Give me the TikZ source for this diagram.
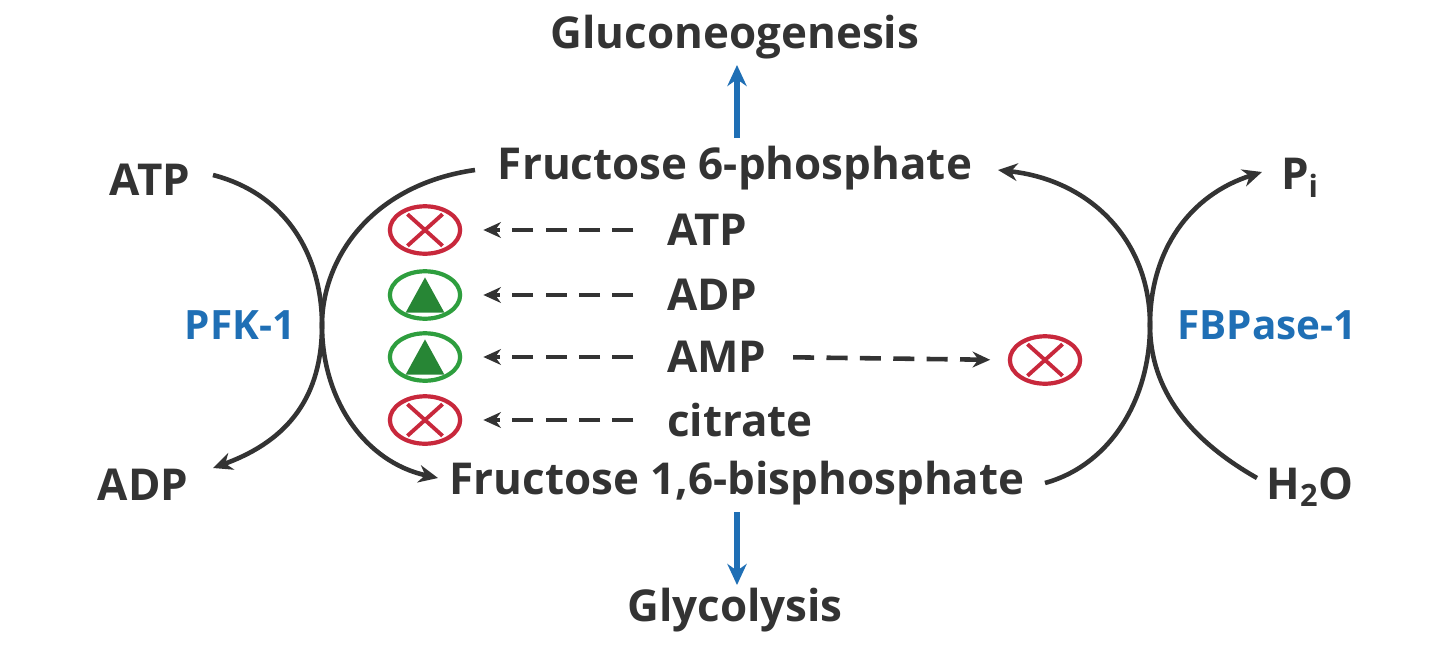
\documentclass[tikz,border=0pt]{standalone}
\usepackage{fontspec}
\setmainfont{Open Sans}
\usetikzlibrary{arrows.meta,shapes.geometric}
\definecolor{txt}{HTML}{333333}
\definecolor{blu}{HTML}{1F6FB5}
\definecolor{rd}{HTML}{C8283C}
\definecolor{gr}{HTML}{2E9E3E}
\begin{document}
\begin{tikzpicture}[x=0.02cm,y=-0.02cm,
 lab/.style={font=\fontsize{25}{30}\selectfont\bfseries,text=txt,inner sep=1pt},
 enz/.style={font=\fontsize{23}{28}\selectfont\bfseries,text=blu},
 curve/.style={draw=txt,line width=2.6pt,-{Stealth[length=11pt,width=10pt]}},
 bar/.style={draw=blu,line width=3.2pt,-{Stealth[length=12pt,width=11pt]}},
 dsh/.style={draw=txt,line width=2.6pt,dash pattern=on 12pt off 7pt,-{Stealth[length=10pt,width=9pt]}},
 inh/.style={ellipse,draw=rd,line width=2.4pt,minimum width=40pt,minimum height=27pt,inner sep=0pt,path picture={\draw[rd,line width=2.2pt] (path picture bounding box.center)++(-10pt,-9pt)--++(20pt,18pt) (path picture bounding box.center)++(-10pt,9pt)--++(20pt,-18pt);}},
 act/.style={ellipse,draw=gr,line width=2.4pt,minimum width=40pt,minimum height=27pt,inner sep=0pt,path picture={\fill[gr!85!black] (path picture bounding box.center)++(0,10pt)--++(-11pt,-20pt)--++(22pt,0)--cycle;}}]
\useasboundingbox (0,0) rectangle (1440,656);
\node[lab] (gng) at (735,37) {Gluconeogenesis};
\node[lab] (f6p) at (735,168) {Fructose 6-phosphate};
\node[lab] (fbp) at (737,483) {Fructose 1,6-bisphosphate};
\node[lab] (gly) at (735,610) {Glycolysis};
\node[lab] (atpL) at (150,180) {ATP};
\node[lab] (adpL) at (143,485) {ADP};
\node[enz] (pfk) at (240,325) {PFK-1};
\node[lab] (pi) at (1300,178) {P\textsubscript{i}};
\node[lab] (h2o) at (1310,487) {H\textsubscript{2}O};
\node[enz] (fbpase) at (1267,325) {FBPase-1};
\coordinate (g1) at (737,138); \coordinate (g2) at (737,65);
\coordinate (y1) at (737,512); \coordinate (y2) at (737,585);
\draw[bar] (g1) -- (g2);
\draw[bar] (y1) -- (y2);
\coordinate (a1) at (213,175); \coordinate (a2) at (213,468);
\coordinate (b1) at (475,170); \coordinate (b2) at (438,478);
\coordinate (c1) at (1045,483); \coordinate (c2) at (998,170);
\coordinate (d1) at (1257,478); \coordinate (d2) at (1262,172);
\draw[curve] (a1) .. controls (290,195) and (322,260) .. (322,325) .. controls (322,395) and (290,440) .. (a2);
\draw[curve] (b1) .. controls (370,185) and (322,260) .. (322,325) .. controls (322,400) and (365,462) .. (b2);
\draw[curve] (c1) .. controls (1110,465) and (1150,400) .. (1150,325) .. controls (1150,240) and (1090,180) .. (c2);
\draw[curve] (d1) .. controls (1190,440) and (1150,390) .. (1150,325) .. controls (1150,250) and (1190,195) .. (d2);
\node[inh] (s1) at (425,230) {};
\node[act] (s2) at (425,295) {};
\node[act] (s3) at (425,357) {};
\node[inh] (s4) at (425,420) {};
\node[inh] (s5) at (1045,360) {};
\node[lab,anchor=west] (e1) at (665,230) {ATP};
\node[lab,anchor=west] (e2) at (665,295) {ADP};
\node[lab,anchor=west] (e3) at (665,357) {AMP};
\node[lab,anchor=west] (e4) at (665,420) {citrate};
\draw[dsh,shorten <=18pt,shorten >=12pt] (e1.west) -- (s1.east);
\draw[dsh,shorten <=18pt,shorten >=12pt] (e2.west) -- (s2.east);
\draw[dsh,shorten <=18pt,shorten >=12pt] (e3.west) -- (s3.east);
\draw[dsh,shorten <=18pt,shorten >=12pt] (e4.west) -- (s4.east);
\draw[dsh,shorten <=14pt,shorten >=10pt] (e3.east) -- (s5.west);
\end{tikzpicture}
\end{document}
